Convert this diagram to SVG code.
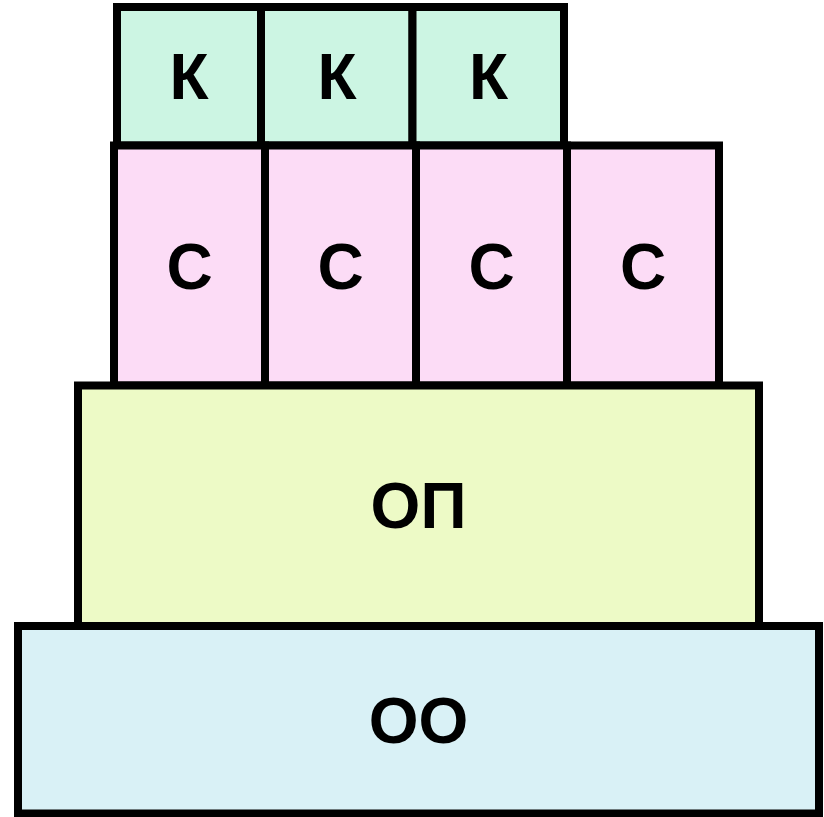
<svg xmlns="http://www.w3.org/2000/svg" width="824" height="817" viewBox="0 0 824 817">
<style>
.b{stroke:#000;stroke-width:8;stroke-linejoin:miter}
.k{fill:#ccf5e3}
.s{fill:#fcdcf6}
.op{fill:#edfac6}
.oo{fill:#d9f1f6}
text{font-family:"Liberation Sans",Arial,sans-serif;font-weight:bold;font-size:64px;fill:#000;text-anchor:middle}
</style>
<rect width="824" height="817" fill="#fff"/>
<g id="k1"><rect class="b k" x="117" y="7" width="144" height="138.5"/><text x="189" y="99">К</text></g>
<g id="k2"><rect class="b k" x="261" y="7" width="151.5" height="138.5"/><text x="337" y="99">К</text></g>
<g id="k3"><rect class="b k" x="412.5" y="7" width="151.5" height="138.5"/><text x="488.5" y="99">К</text></g>
<g id="s1"><rect class="b s" x="114" y="145.5" width="151" height="240"/><text x="189.5" y="288.5">С</text></g>
<g id="s2"><rect class="b s" x="265" y="145.5" width="151" height="240"/><text x="340.5" y="288.5">С</text></g>
<g id="s3"><rect class="b s" x="416" y="145.5" width="151" height="240"/><text x="491.5" y="288.5">С</text></g>
<g id="s4"><rect class="b s" x="567" y="145.5" width="152" height="240"/><text x="643" y="288.5">С</text></g>
<g id="op"><rect class="b op" x="78" y="385.5" width="681" height="240.5"/><text x="418.5" y="528">ОП</text></g>
<g id="oo"><rect class="b oo" x="18" y="626" width="801" height="187.5"/><text x="418.5" y="743">ОО</text></g>
<g id="connectors"/>
</svg>
